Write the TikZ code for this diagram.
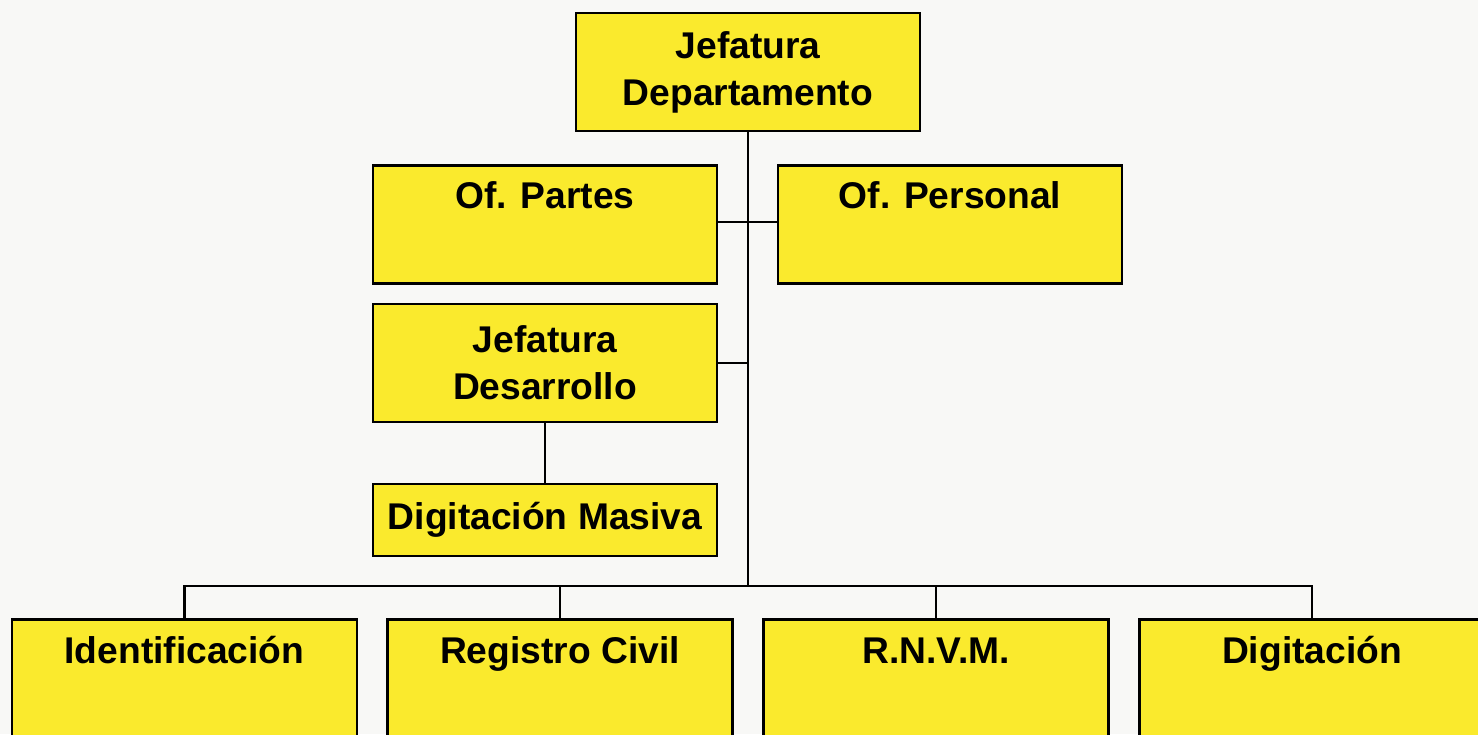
\documentclass[tikz,border=0pt]{standalone}
\usepackage{fontspec}
\setmainfont{Liberation Sans}
\usetikzlibrary{positioning}
\definecolor{boxyellow}{RGB}{250,234,45}
\definecolor{paper}{RGB}{248,248,246}
\tikzset{
	unit box/.style={draw=black,fill=boxyellow,line width=1.4pt,inner sep=0pt,
		minimum width=172pt,align=center,font=\bfseries\fontsize{18.6}{23.5}\selectfont},
	head box/.style={unit box,minimum height=59pt},
	title box/.style={unit box,anchor=north,text height=21.5pt,text depth=37.5pt},
	base box/.style={unit box,anchor=north,minimum width=172.5pt,text height=22pt,text depth=60pt},
	link/.style={line width=1.2pt}
}

\begin{document}
\begin{tikzpicture}[x=0.5pt,y=-0.5pt]
            \useasboundingbox (0,0) rectangle (1478,734);
            \fill[paper] (0,0) rectangle (1478,734);
            \clip (0,0) rectangle (1478,734);
            \node [head box] (jdep) at (748,72) {Jefatura\\Departamento};
            \node [title box] (partes) at (545,164) {Of. Partes};
            \node [title box] (personal) at (950,164) {Of. Personal};
            \node [head box] (jdes) at (545,363) {Jefatura\\Desarrollo};
            \node [unit box,minimum height=36pt] (masiva) at (545,520) {Digitación Masiva};
            \node [base box] (ident) at (184.5,618) {Identificación};
            \node [base box] (rcivil) at (560,618) {Registro Civil};
            \node [base box] (rnvm) at (936,618) {R.N.V.M.};
            \node [base box] (digit) at (1312,618) {Digitación};
            \coordinate (ofs) at (748,222);
            \coordinate (bus) at (748,586);
            \draw [link] (jdep.south) -- (bus);
            \draw [link] (partes.east |- ofs) -- (personal.west |- ofs);
            \draw [link] (jdes.east) -- (jdes.east -| jdep.south);
            \draw [link] (jdes.south) -- (masiva.north);
            \draw [link] (ident.north) -- (ident.north |- bus) -- (digit.north |- bus) -- (digit.north);
            \draw [link] (rcivil.north) -- (rcivil.north |- bus);
            \draw [link] (rnvm.north) -- (rnvm.north |- bus);
          \end{tikzpicture}
\end{document}
